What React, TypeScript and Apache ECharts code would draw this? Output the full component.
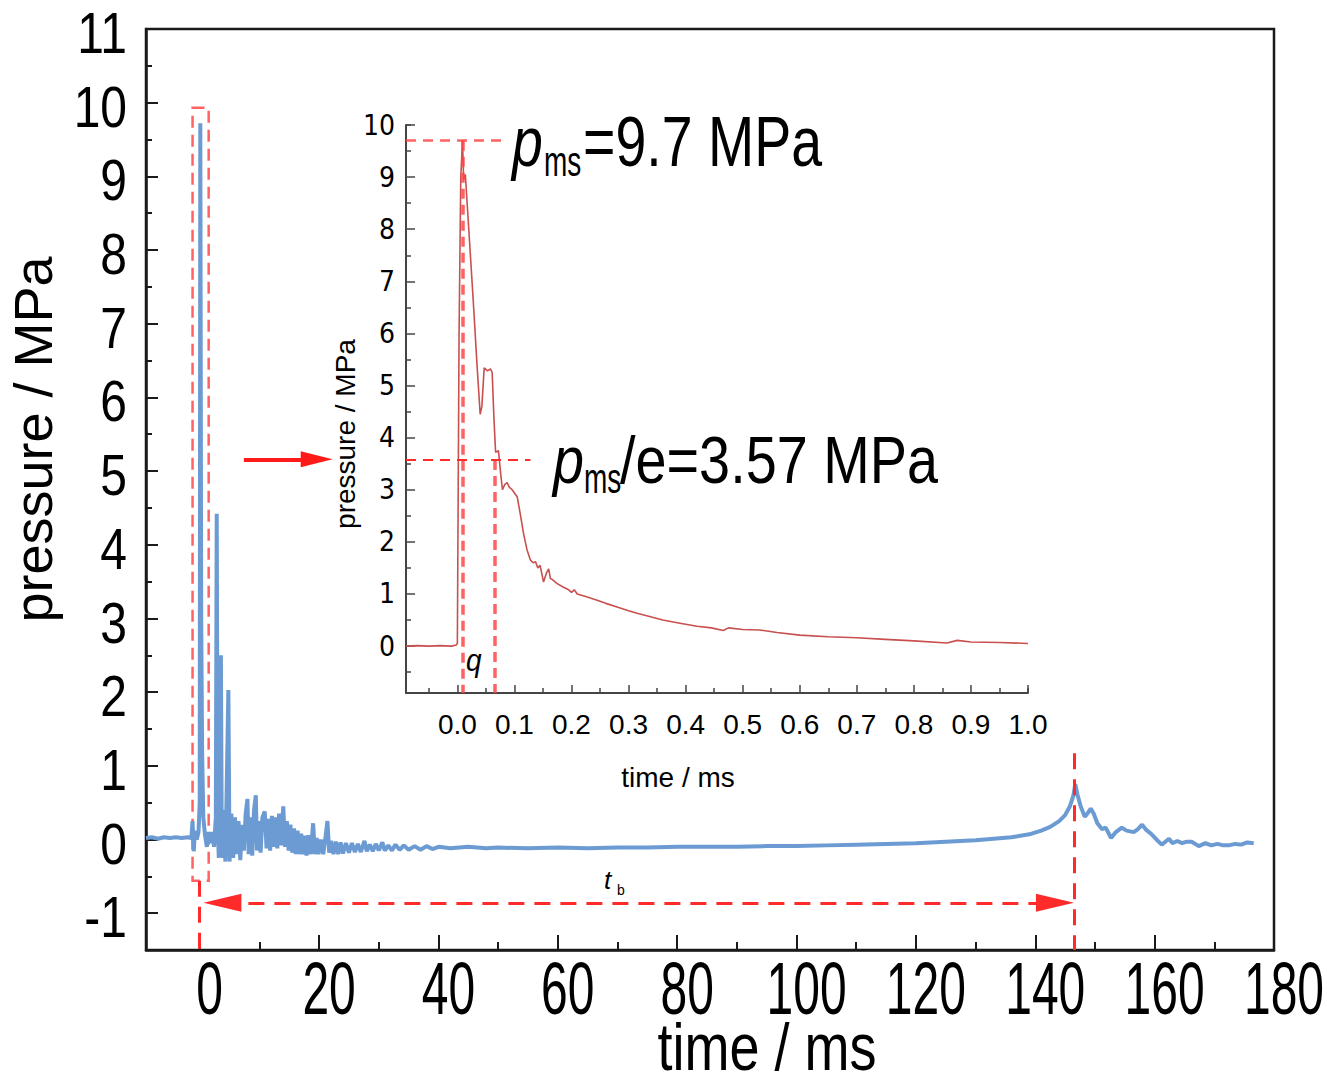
import React, { useEffect, useRef } from "react";
import * as echarts from "echarts";

// ---------- data ----------
// main record: [time ms, pressure MPa]
const mainSignal: [number, number][] = [
  [-9, 0.02], [-8, 0.03], [-7, 0.01], [-6, 0.03], [-5, 0.02], [-4, 0.03], [-3, 0.02], [-2, 0.03],
  [-1.4, 0.02], [-1.2, 0.25], [-1.0, -0.16], [-0.8, 0.12], [-0.5, 0.0], [-0.2, 0.1], [0.0, 0.5],
  [0.1, 9.72], [0.25, 3.0], [0.4, 1.2], [0.6, 0.3], [0.9, 0.05], [1.2, -0.1], [1.5, 0.1], [1.8, -0.05],
  [2.1, 0.1], [2.4, -0.1], [2.7, 0.3], [2.85, 4.42], [3.0, 0.2], [3.2, -0.25], [3.4, 0.5], [3.55, 2.5],
  [3.7, -0.1], [3.9, -0.25], [4.1, 0.4], [4.3, -0.3], [4.5, 0.6], [4.8, 2.03], [5.0, -0.3],
  [5.3, 0.35], [5.6, -0.25], [5.9, 0.3], [6.2, -0.2], [6.5, 0.25], [6.8, -0.28], [7.1, 0.2], [7.4, -0.15],
  [7.7, 0.35], [8.0, 0.55], [8.2, -0.2], [8.5, 0.3], [8.8, -0.22], [9.1, 0.4], [9.4, 0.6], [9.6, -0.15],
  [9.9, 0.25], [10.2, -0.18], [10.5, 0.3], [10.9, 0.38], [11.2, -0.12], [11.5, 0.28], [11.8, -0.15],
  [12.1, 0.32], [12.4, -0.1], [12.7, 0.3], [13.0, -0.12], [13.3, 0.35], [13.6, -0.08], [14.0, 0.45],
  [14.3, -0.1], [14.6, 0.25], [14.9, -0.15], [15.2, 0.2], [15.5, -0.18], [15.8, 0.15], [16.1, -0.2],
  [16.4, 0.12], [16.7, -0.2], [17.0, 0.08], [17.3, -0.2], [17.6, 0.05], [17.9, -0.22], [18.2, 0.06],
  [18.6, -0.2], [19.0, 0.22], [19.3, -0.2], [19.6, 0.02], [19.9, -0.2], [20.3, 0.0], [20.7, -0.2],
  [21.1, 0.05], [21.4, 0.25], [21.7, -0.18], [22.0, -0.02], [22.4, -0.2], [22.8, -0.03], [23.2, -0.2],
  [23.6, -0.04], [24.0, -0.19], [24.5, -0.05], [25.0, -0.18], [25.5, -0.05], [26.0, -0.17], [26.5, -0.06],
  [27.0, -0.17], [27.6, -0.02], [28.0, -0.16], [28.5, -0.07], [29.0, -0.16], [29.5, -0.06], [30.0, -0.15],
  [30.6, -0.04], [31.0, -0.15], [31.6, -0.08], [32.2, -0.15], [32.8, -0.07], [33.5, -0.14], [34.2, -0.08],
  [35.0, -0.14], [36, -0.09], [37, -0.14], [38, -0.09], [39, -0.13], [40, -0.1], [42, -0.12], [45, -0.1],
  [48, -0.12], [50, -0.11], [55, -0.12], [60, -0.11], [65, -0.12], [70, -0.11], [75, -0.11], [80, -0.1],
  [85, -0.1], [90, -0.1], [95, -0.09], [100, -0.09], [105, -0.08], [110, -0.07], [115, -0.06], [120, -0.05],
  [125, -0.03], [130, -0.01], [133, 0.01], [136, 0.03], [139, 0.07], [141, 0.12], [142.5, 0.17], [144, 0.25],
  [145, 0.33], [145.8, 0.45], [146.4, 0.6], [146.7, 0.75], [147.1, 0.6], [147.6, 0.45], [148.3, 0.31],
  [148.8, 0.36], [149.3, 0.42], [149.8, 0.35], [150.4, 0.22], [151.2, 0.14], [151.8, 0.16], [152.7, 0.02],
  [153.5, 0.1], [154.5, 0.16], [155.3, 0.12], [156.5, 0.1], [157.2, 0.14], [157.9, 0.2], [158.6, 0.13],
  [159.5, 0.07], [160.3, 0.0], [161.2, -0.07], [161.8, -0.03], [162.4, 0.01], [163, -0.05], [163.8, -0.02],
  [164.6, -0.05], [165.4, -0.03], [166.2, -0.03], [167.4, -0.09], [168.5, -0.05], [169.5, -0.08],
  [170.5, -0.06], [171.5, -0.08], [172.4, -0.08], [173.5, -0.06], [174.5, -0.07], [175.5, -0.04], [176.6, -0.05],
];

// zoomed record (inset): [time ms, pressure MPa]
const insetSignal: [number, number][] = [
  [-0.09, 0.0], [-0.07, 0.01], [-0.05, 0.0], [-0.03, 0.01], [-0.01, 0.0], [-0.002, 0.02], [0.0, 0.05],
  [0.003, 6.0], [0.006, 9.0], [0.009, 9.7], [0.011, 8.95], [0.014, 9.05], [0.02, 8.0], [0.028, 6.6],
  [0.035, 5.3], [0.04, 4.45], [0.043, 4.6], [0.047, 5.34], [0.053, 5.28], [0.058, 5.32], [0.061, 5.25],
  [0.064, 4.4], [0.067, 3.72], [0.072, 3.75], [0.076, 3.3], [0.079, 3.0], [0.083, 3.1], [0.087, 3.14],
  [0.091, 3.05], [0.096, 3.0], [0.105, 2.86], [0.11, 2.55], [0.116, 2.16], [0.122, 1.85], [0.128, 1.65],
  [0.133, 1.6], [0.137, 1.62], [0.141, 1.5], [0.145, 1.55], [0.151, 1.23], [0.156, 1.4], [0.16, 1.48],
  [0.163, 1.3], [0.166, 1.28], [0.175, 1.2], [0.186, 1.13], [0.195, 1.08], [0.2, 1.03], [0.205, 1.08],
  [0.21, 1.0], [0.225, 0.95], [0.245, 0.88], [0.26, 0.82], [0.28, 0.75], [0.3, 0.68], [0.315, 0.63],
  [0.34, 0.56], [0.36, 0.5], [0.39, 0.44], [0.42, 0.38], [0.445, 0.35], [0.466, 0.3], [0.475, 0.35],
  [0.5, 0.32], [0.53, 0.31], [0.56, 0.26], [0.6, 0.21], [0.65, 0.18], [0.7, 0.16], [0.75, 0.13],
  [0.8, 0.1], [0.858, 0.06], [0.876, 0.11], [0.9, 0.08], [0.95, 0.07], [1.0, 0.05],
];

// axis ranges and tick labels
const mainX = { min: -9, max: 180 };
const mainY = { min: -1.5, max: 11 };
const insetX = { min: -0.09, max: 1.0 };
const insetY = { min: -0.9, max: 10 };
const mainXTickLabels = [0, 20, 40, 60, 80, 100, 120, 140, 160, 180];
const mainYTickLabels = [-1, 0, 1, 2, 3, 4, 5, 6, 7, 8, 9, 10, 11];

// annotation values
const pms = 9.7;
const pmsE = 3.57;
const tPeak = 0.009;
const tE = 0.065;
const tbStart = 0;
const tbEnd = 146.6;
const tbLevel = -0.86;
const spikeBox = { t0: -1.2, t1: 1.5, p0: 9.93, p1: -0.56 };
const zoomArrow = { t0: 7.4, t1: 19.6, p: 5.16 };

const CONDENSED = '"DejaVu Sans Condensed", "Liberation Sans", sans-serif';
const SANS = '"Liberation Sans", Arial, sans-serif';
const RED = "#ff2a2a";
const PINK = "rgba(255,70,70,0.85)";

function isMult(v: number, step: number) {
  const r = v / step;
  return Math.abs(r - Math.round(r)) < 1e-6;
}

function txt(id: string, x: number, y: number, text: string, fontSize: number, opts: any = {}) {
  const style: any = {
    text, fontFamily: SANS, fontSize, fontStyle: opts.italic ? "italic" : "normal", fill: "#000",
    align: opts.align ?? "left", verticalAlign: "middle",
    textAlign: opts.align ?? "left", textVerticalAlign: "middle",
  };
  if (opts.lineHeight) style.lineHeight = opts.lineHeight;
  return { type: "text", id, x, y, scaleY: opts.scaleY ?? 1, silent: true, z: 100, style };
}

export default function App() {
  const ref = useRef<HTMLDivElement>(null);
  useEffect(() => {
    if (!ref.current) return;
    const chart = echarts.init(ref.current, null, { renderer: "svg" });
    const axisLineMain = { show: true, onZero: false, lineStyle: { color: "#1a1a1a", width: 2.5 } };
    const axisLineInset = { show: true, onZero: false, lineStyle: { color: "#444", width: 2 } };
    const noLine = { show: false, onZero: false };
    const option: any = {
      animation: false,
      backgroundColor: "#fff",
      grid: [
        { left: 146, top: 29, width: 1128, height: 921, show: true, borderColor: "#1a1a1a", borderWidth: 2.5, backgroundColor: "transparent", containLabel: false, outerBoundsMode: "none" },
        { left: 406, top: 125, width: 622, height: 568, containLabel: false, outerBoundsMode: "none" },
      ],
      xAxis: [
        {
          gridIndex: 0, type: "value", position: "bottom", min: mainX.min, max: mainX.max, splitNumber: 9,
          axisLine: axisLineMain, splitLine: { show: false },
          axisTick: { inside: true, length: 15, lineStyle: { color: "#1a1a1a", width: 2 } },
          axisLabel: { show: false },
        },
        {
          gridIndex: 0, type: "value", position: "bottom", min: mainX.min + 10, max: mainX.max + 10, splitNumber: 9,
          axisLine: noLine, splitLine: { show: false }, axisLabel: { show: false },
          axisTick: { inside: true, length: 8, lineStyle: { color: "#1a1a1a", width: 2 } },
        },
        {
          gridIndex: 1, type: "value", position: "bottom", min: insetX.min, max: insetX.max, splitNumber: 10,
          axisLine: axisLineInset, splitLine: { show: false },
          axisTick: { inside: true, length: 8, lineStyle: { color: "#444", width: 1.5 } },
          axisLabel: {
            fontFamily: SANS, fontSize: 28, color: "#000", margin: 17,
            formatter: (v: number) => (v >= -1e-9 && isMult(v, 0.1) ? v.toFixed(1) : ""),
          },
          name: "time / ms", nameLocation: "middle", nameGap: 70,
          nameTextStyle: { fontFamily: SANS, fontSize: 28, color: "#000", padding: [0, 78, 0, 0] },
        },
        {
          gridIndex: 1, type: "value", position: "bottom", min: insetX.min + 0.05, max: insetX.max + 0.05, splitNumber: 10,
          axisLine: noLine, splitLine: { show: false }, axisLabel: { show: false },
          axisTick: { inside: true, length: 5, lineStyle: { color: "#444", width: 1.5 } },
        },
      ],
      yAxis: [
        {
          gridIndex: 0, type: "value", position: "left", min: mainY.min, max: mainY.max, splitNumber: 12,
          axisLine: axisLineMain, splitLine: { show: false },
          axisTick: { inside: true, length: 12, lineStyle: { color: "#1a1a1a", width: 2 } },
          axisLabel: { show: false },
          name: "pressure / MPa", nameLocation: "middle", nameGap: 86,
          nameTextStyle: { fontFamily: SANS, fontSize: 54, color: "#000", padding: [0, 0, 0, 100] },
        },
        {
          gridIndex: 0, type: "value", position: "left", min: mainY.min + 0.5, max: mainY.max + 0.5, splitNumber: 12,
          axisLine: noLine, splitLine: { show: false }, axisLabel: { show: false },
          axisTick: { inside: true, length: 6, lineStyle: { color: "#1a1a1a", width: 2 } },
        },
        {
          gridIndex: 1, type: "value", position: "left", min: insetY.min, max: insetY.max, splitNumber: 11,
          axisLine: axisLineInset, splitLine: { show: false },
          axisTick: { inside: true, length: 9, lineStyle: { color: "#444", width: 1.5 } },
          axisLabel: {
            fontFamily: CONDENSED, fontSize: 28, color: "#000", margin: 11,
            formatter: (v: number) => (isMult(v, 1) ? String(Math.round(v)) : ""),
          },
          name: "pressure / MPa", nameLocation: "middle", nameGap: 46,
          nameTextStyle: { fontFamily: SANS, fontSize: 28, color: "#000", padding: [0, 50, 0, 0] },
        },
        {
          gridIndex: 1, type: "value", position: "left", min: insetY.min + 0.5, max: insetY.max + 0.5, splitNumber: 11,
          axisLine: noLine, splitLine: { show: false }, axisLabel: { show: false },
          axisTick: { inside: true, length: 5, lineStyle: { color: "#444", width: 1.5 } },
        },
      ],
      series: [
        {
          type: "line", xAxisIndex: 0, yAxisIndex: 0, data: mainSignal, showSymbol: false, symbol: "none",
          lineStyle: { color: "#6b9bd2", width: 4 }, silent: true, z: 2,
          markArea: {
            silent: true,
            itemStyle: { color: "rgba(0,0,0,0)", borderColor: PINK, borderWidth: 2.5, borderType: [12, 7] },
            label: { show: false },
            data: [[{ coord: [spikeBox.t0, spikeBox.p0] }, { coord: [spikeBox.t1, spikeBox.p1] }]],
          },
          markLine: {
            silent: true, symbol: ["none", "none"], label: { show: false },
            lineStyle: { color: RED, width: 3, type: [16, 10] },
            emphasis: { disabled: true },
            data: [
              [{ coord: [tbStart, spikeBox.p1] }, { coord: [tbStart, mainY.min] }],
              [{ coord: [tbEnd, 1.17] }, { coord: [tbEnd, mainY.min] }],
              [
                { coord: [tbStart + 3.8, tbLevel], symbol: "triangle", symbolSize: [18, 38], itemStyle: { color: RED } },
                { coord: [tbEnd - 3.3, tbLevel], symbol: "triangle", symbolSize: [18, 38], itemStyle: { color: RED } },
              ],
              [
                { coord: [zoomArrow.t0, zoomArrow.p], symbol: "none", lineStyle: { color: "#ff1a1a", width: 4, type: "solid" } },
                { coord: [zoomArrow.t1, zoomArrow.p], symbol: "triangle", symbolSize: [16, 32], itemStyle: { color: "#ff1a1a" } },
              ],
            ],
          },
        },
        {
          type: "line", xAxisIndex: 2, yAxisIndex: 2, data: insetSignal, showSymbol: false, symbol: "none",
          lineStyle: { color: "#c8504f", width: 1.6 }, silent: true, z: 3,
          markLine: {
            silent: true, symbol: ["none", "none"], label: { show: false },
            lineStyle: { color: PINK, width: 2.5, type: [10, 7] },
            emphasis: { disabled: true },
            data: [
              [{ coord: [insetX.min, pms] }, { coord: [0.079, pms] }],
              [{ coord: [tPeak, pms], lineStyle: { color: PINK, width: 3.5, type: [10, 6] } }, { coord: [tPeak, insetY.min] }],
              [{ coord: [tE, pmsE], lineStyle: { color: PINK, width: 3.5, type: [10, 6] } }, { coord: [tE, insetY.min] }],
              [{ coord: [insetX.min, pmsE], lineStyle: { color: RED, width: 1.8, type: [10, 7] } }, { coord: [0.128, pmsE] }],
            ],
          },
        },
      ],
    };
    chart.setOption(option);

    // tick labels of the main axes, placed through the axes' own scales
    const xLabels = mainXTickLabels.map((v) => {
      const px = chart.convertToPixel({ xAxisIndex: 0 } as any, v) as number;
      return txt("xl" + v, px + 10, 988, String(v), 48, { align: "center", scaleY: 1.55, lineHeight: 38 });
    });
    const yLabels = mainYTickLabels.map((v) => {
      const py = chart.convertToPixel({ yAxisIndex: 0 } as any, v) as number;
      return txt("yl" + v, 127, py + 4, String(v), 48, { align: "right", scaleY: 1.2, lineHeight: 38 });
    });

    const annotations = [
      txt("a1", 512, 141.5, "p", 55.5, { italic: true, scaleY: 1.26 }),
      txt("a2", 544, 162, "ms", 28, { scaleY: 1.5 }),
      txt("a3", 583, 141.5, "=9.7 MPa", 55.5, { scaleY: 1.26 }),
      txt("b1", 553, 459.3, "p", 55.8, { italic: true, scaleY: 1.2 }),
      txt("b2", 584, 479, "ms", 28, { scaleY: 1.5 }),
      txt("b3", 620, 459.3, "/e=3.57 MPa", 55.8, { scaleY: 1.2 }),
      txt("c1", 604, 880, "t", 26, { italic: true }),
      txt("c2", 617, 890, "b", 14),
      txt("d1", 466, 660, "q", 28, { italic: true, scaleY: 1.15 }),
      txt("xt", 767, 1047, "time / ms", 54, { align: "center", scaleY: 1.25, lineHeight: 40 }),
    ];

    chart.setOption({ graphic: [...xLabels, ...yLabels, ...annotations] });
    return () => chart.dispose();
  }, []);
  return (
    <div
      ref={ref}
      style={{ position: "absolute", left: 0, top: 0, width: 1327, height: 1086, background: "#fff" }}
    />
  );
}
